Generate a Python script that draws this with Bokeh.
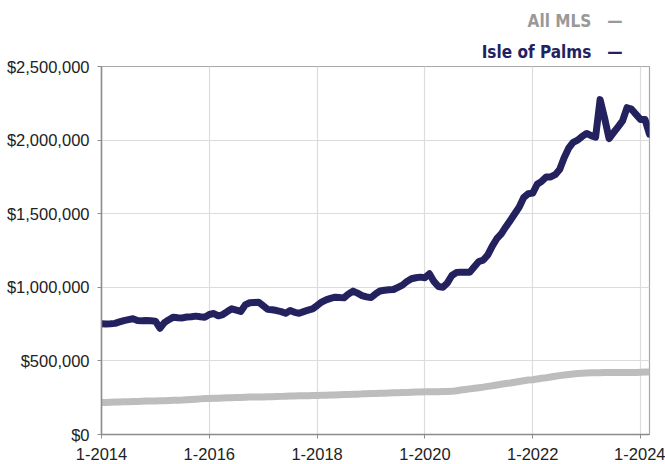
from bokeh.plotting import figure
from bokeh.models import Range1d, FixedTicker, NumeralTickFormatter, Title
from bokeh.embed import file_html
from bokeh.resources import INLINE

# Monthly data, Jan 2014 .. Mar 2024 (values in $ thousands)
start_year = 2014
isle_of_palms_k = [
    752, 750, 752, 755, 765, 774, 780, 786, 775, 772, 774, 772,
    770, 722, 760, 780, 797, 793, 792, 798, 800, 804, 800, 797,
    815, 822, 806, 815, 835, 854, 845, 836, 880, 895, 897, 899,
    875, 850, 847, 842, 835, 824, 842, 830, 824, 835, 845, 854,
    876, 900, 915, 925, 933, 930, 929, 955, 974, 960, 944, 935,
    930, 955, 975, 980, 983, 985, 1000, 1015, 1040, 1058, 1065, 1069,
    1065, 1092, 1040, 1005, 1000, 1030, 1080, 1100, 1103, 1103, 1103, 1140,
    1175, 1185, 1220, 1280, 1330, 1363, 1410, 1454, 1500, 1545, 1610, 1635,
    1640, 1700, 1720, 1750, 1750, 1765, 1800, 1880, 1945, 1985, 2000, 2025,
    2045, 2030, 2020, 2275, 2150, 2010, 2050, 2090, 2130, 2220, 2210, 2175,
    2140, 2140, 2040,
]
all_mls_k = [
    217, 218, 219, 220, 221, 222, 223, 224, 225, 226, 227, 228,
    228, 229, 230, 231, 232, 233, 234, 236, 238, 240, 242, 244,
    245, 246, 247, 248, 249, 250, 251, 252, 253, 254, 254, 255,
    255, 256, 257, 258, 259, 260, 261, 262, 263, 264, 264, 265,
    265, 266, 267, 268, 269, 270, 271, 272, 273, 274, 276, 277,
    278, 279, 280, 281, 282, 283, 284, 285, 286, 287, 288, 289,
    290, 290, 291, 291, 292, 292, 293, 297, 302, 306, 310, 314,
    318, 322, 327, 331, 336, 341, 346, 350, 355, 360, 365, 370,
    372, 377, 382, 386, 391, 396, 400, 404, 408, 411, 414, 416,
    418, 419, 420, 420, 421, 421, 421, 421, 422, 422, 422, 422,
    423, 424, 425,
]
tick_years = [2014, 2016, 2018, 2020, 2022, 2024]
tick_labels = ["1-2014", "1-2016", "1-2018", "1-2020", "1-2022", "1-2024"]
y_ticks = [0, 500000, 1000000, 1500000, 2000000, 2500000]
series_names = ["All MLS", "Isle of Palms"]

x = [start_year + i / 12 for i in range(len(isle_of_palms_k))]
iop = [v * 1000 for v in isle_of_palms_k]
mls = [v * 1000 for v in all_mls_k]

NAVY = "#24215f"
GREY = "#bdbdbd"
FONT = "Liberation Sans"

p = figure(width=665, height=464, output_backend="svg", toolbar_location=None,
           x_range=Range1d(2014, 2024 + 2.0 / 12), y_range=Range1d(0, 2500000),
           min_border_left=101, min_border_right=16, min_border_top=66, min_border_bottom=30)

p.line(x, mls, line_color=GREY, line_width=7, line_join="round", line_cap="round")
p.line(x, iop, line_color=NAVY, line_width=7, line_join="round", line_cap="round")

p.xaxis.ticker = FixedTicker(ticks=tick_years)
p.xaxis.major_label_overrides = {yr: lab for yr, lab in zip(tick_years, tick_labels)}
p.yaxis.ticker = FixedTicker(ticks=y_ticks)
p.yaxis.formatter = NumeralTickFormatter(format="$0,0")

for ax in (p.xaxis[0], p.yaxis[0]):
    ax.axis_line_color = "#8c8c8c"
    ax.axis_line_width = 1.5
    ax.major_tick_line_color = "#8c8c8c"
    ax.major_tick_out = 4
    ax.major_tick_in = 0
    ax.minor_tick_line_color = None
    ax.major_label_text_font = FONT
    ax.major_label_text_font_size = "16.5px"
    ax.major_label_text_color = "#222222"
p.xaxis.major_label_standoff = 9
p.yaxis.major_label_standoff = 8

p.xgrid.grid_line_color = "#dcdcdc"
p.ygrid.grid_line_color = "#dcdcdc"
p.xgrid.grid_line_width = 1.2
p.ygrid.grid_line_width = 1.2
p.outline_line_color = "#a8a8a8"
p.outline_line_width = 1.2
p.background_fill_color = "white"
p.border_fill_color = "white"

# Legend-like titles above the plot, right aligned
legend_colors = ["#999999", NAVY]
legend_standoff = [10, 9]
for name, col, so in zip(reversed(series_names), reversed(legend_colors), reversed(legend_standoff)):
    p.add_layout(Title(text=name + "\u00a0\u00a0\u00a0\u2014", align="right", offset=27,
                       text_font="DejaVu Sans Condensed", text_font_style="bold",
                       text_font_size="17px", text_color=col, standoff=so), "above")

open("out.html", "w").write(file_html(p, INLINE))
